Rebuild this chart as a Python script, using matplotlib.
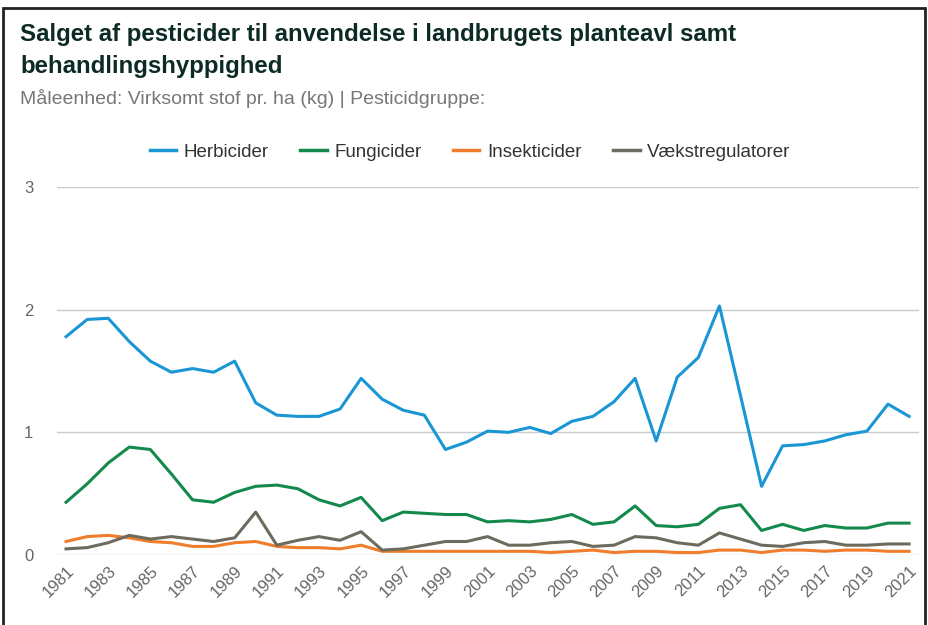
import matplotlib.pyplot as plt
from matplotlib.patches import Rectangle
from matplotlib.lines import Line2D

years = list(range(1981, 2022))

herbicider = [1.78, 1.92, 1.93, 1.74, 1.58, 1.49, 1.52, 1.49, 1.58, 1.24,
              1.14, 1.13, 1.13, 1.19, 1.44, 1.27, 1.18, 1.14, 0.86, 0.92,
              1.01, 1.00, 1.04, 0.99, 1.09, 1.13, 1.25, 1.44, 0.93, 1.45,
              1.61, 2.03, 1.30, 0.56, 0.89, 0.90, 0.93, 0.98, 1.01, 1.23,
              1.13]
fungicider = [0.43, 0.58, 0.75, 0.88, 0.86, 0.66, 0.45, 0.43, 0.51, 0.56,
              0.57, 0.54, 0.45, 0.40, 0.47, 0.28, 0.35, 0.34, 0.33, 0.33,
              0.27, 0.28, 0.27, 0.29, 0.33, 0.25, 0.27, 0.40, 0.24, 0.23,
              0.25, 0.38, 0.41, 0.20, 0.25, 0.20, 0.24, 0.22, 0.22, 0.26,
              0.26]
insekticider = [0.11, 0.15, 0.16, 0.14, 0.11, 0.10, 0.07, 0.07, 0.10, 0.11,
                0.07, 0.06, 0.06, 0.05, 0.08, 0.03, 0.03, 0.03, 0.03, 0.03,
                0.03, 0.03, 0.03, 0.02, 0.03, 0.04, 0.02, 0.03, 0.03, 0.02,
                0.02, 0.04, 0.04, 0.02, 0.04, 0.04, 0.03, 0.04, 0.04, 0.03,
                0.03]
vaekst = [0.05, 0.06, 0.10, 0.16, 0.13, 0.15, 0.13, 0.11, 0.14, 0.35,
          0.08, 0.12, 0.15, 0.12, 0.19, 0.04, 0.05, 0.08, 0.11, 0.11,
          0.15, 0.08, 0.08, 0.10, 0.11, 0.07, 0.08, 0.15, 0.14, 0.10,
          0.08, 0.18, 0.13, 0.08, 0.07, 0.10, 0.11, 0.08, 0.08, 0.09,
          0.09]

names = ['Herbicider', 'Fungicider', 'Insekticider', 'Vækstregulatorer']
colors = ['#1a96d4', '#13894c', '#ef7d2b', '#6c6b5e']
series = [herbicider, fungicider, insekticider, vaekst]

plt.rcParams['font.family'] = ['Liberation Sans', 'DejaVu Sans']

fig = plt.figure(figsize=(9.29, 6.25), dpi=100)
# dark frame around the card
fig.patches.append(Rectangle((3/929, -0.01), 922/929, 1 - 8/625 + 0.01, transform=fig.transFigure,
                             fill=False, edgecolor='#222222', linewidth=2))

ax = fig.add_axes([57/929, 70/625, 862/929, 368/625])
for s, c, n in zip(series, colors, names):
    ax.plot(years, s, color=c, linewidth=2.2, label=n)

ax.set_xlim(1980.57, 2021.47)
ax.set_ylim(0, 3)
ax.set_yticks([0, 1, 2, 3])
ax.set_xticks(years[::2])
ax.set_xticklabels([str(y) for y in years[::2]], rotation=45, ha='right',
                   rotation_mode='anchor', fontsize=12, color='#666666')
ax.tick_params(axis='y', length=0, labelsize=12, labelcolor='#666666', pad=17)
ax.tick_params(axis='x', length=0, pad=6)
ax.grid(axis='y', color='#c5cdd1', linewidth=1)
ax.set_axisbelow(True)
for sp in ax.spines.values():
    sp.set_visible(False)

fig.text(20/929, 1 - 35/625, 'Salget af pesticider til anvendelse i landbrugets planteavl samt',
         fontsize=17.3, fontweight='bold', color='#0d2b25', va='center')
fig.text(20/929, 1 - 66/625, 'behandlingshyppighed',
         fontsize=17.3, fontweight='bold', color='#0d2b25', va='center')
fig.text(20/929, 1 - 99/625, 'Måleenhed: Virksomt stof pr. ha (kg) | Pesticidgruppe:',
         fontsize=14, color='#777777', va='center')

handles = [Line2D([0], [0], color=c, linewidth=2.5) for c in colors]
fig.legend(handles, names, loc='center', bbox_to_anchor=(470/929, 1 - 152/625),
           ncol=4, frameon=False, fontsize=13.5, handlelength=1.4, handletextpad=0.4,
           columnspacing=1.7, labelcolor='#333333')

fig.savefig('out.png', dpi=100)
